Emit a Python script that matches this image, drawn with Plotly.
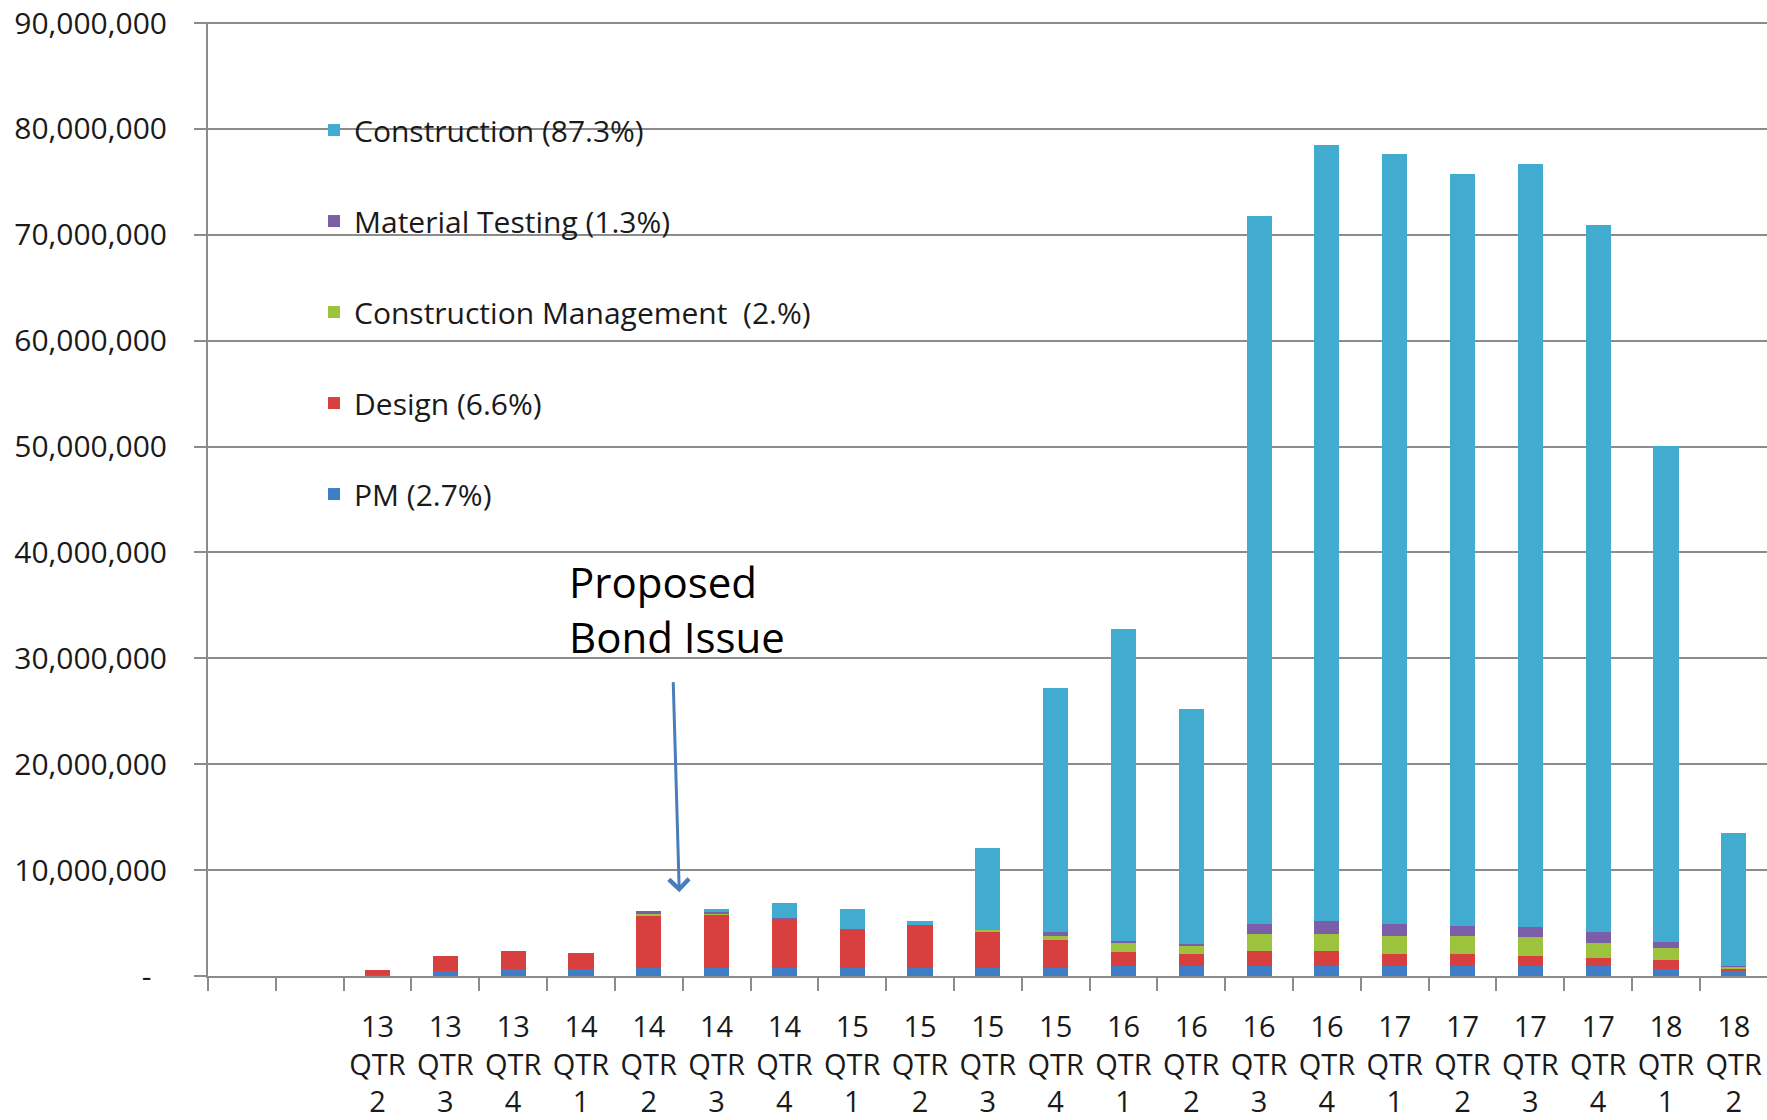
import plotly.graph_objects as go

# ---- data (values in millions of dollars) ----
years = ["", "", "13", "13", "13", "14", "14", "14", "14", "15", "15", "15", "15",
         "16", "16", "16", "16", "17", "17", "17", "17", "18", "18"]
quarters = ["", "", "2", "3", "4", "1", "2", "3", "4", "1", "2", "3", "4",
            "1", "2", "3", "4", "1", "2", "3", "4", "1", "2"]

pm = [0, 0, 0.05, 0.45, 0.65, 0.7, 0.75, 0.8, 0.75, 0.75, 0.75, 0.8, 0.8,
      0.95, 0.95, 0.95, 0.95, 0.95, 0.95, 0.9, 0.9, 0.7, 0.55]
design = [0, 0, 0.5, 1.45, 1.75, 1.45, 5.0, 5.0, 4.55, 3.6, 4.05, 3.4, 2.6,
          1.35, 1.1, 1.4, 1.4, 1.15, 1.15, 1.0, 0.8, 0.8, 0.15]
cm = [0, 0, 0, 0, 0, 0, 0.15, 0.1, 0, 0, 0, 0.15, 0.4,
      0.8, 0.75, 1.6, 1.6, 1.65, 1.65, 1.8, 1.4, 1.1, 0.15]
mt = [0, 0, 0, 0, 0, 0, 0.25, 0.1, 0.15, 0.1, 0, 0, 0.4,
      0.25, 0.25, 1.0, 1.2, 1.2, 0.95, 0.95, 1.1, 0.6, 0.05]
construction = [0, 0, 0, 0, 0, 0, 0, 0.3, 1.4, 1.85, 0.4, 7.7, 23.0,
                29.45, 22.15, 66.85, 73.35, 72.65, 71.0, 72.05, 66.7, 46.9, 12.6]

series_names = ["PM (2.7%)", "Design (6.6%)", "Construction Management  (2.%)",
                "Material Testing (1.3%)", "Construction (87.3%)"]
series_values = [pm, design, cm, mt, construction]
series_colors = ["#3f7dc6", "#d8403f", "#9dc33e", "#7a5ea8", "#41acd0"]
legend_ranks = [5, 4, 3, 2, 1]

ytick_vals = [0, 10e6, 20e6, 30e6, 40e6, 50e6, 60e6, 70e6, 80e6, 90e6]
ytick_text = ["-\u00a0\u00a0", "10,000,000", "20,000,000", "30,000,000", "40,000,000",
              "50,000,000", "60,000,000", "70,000,000", "80,000,000", "90,000,000"]

# category names: unique placeholders for the empty slots
cats = []
for i, (yr, q) in enumerate(zip(years, quarters)):
    if yr == "":
        cats.append("\u200b" * (i + 1))
    else:
        cats.append(f"{yr}<br>QTR<br>{q}")

fig = go.Figure()
for name, vals, col, rk in zip(series_names, series_values, series_colors, legend_ranks):
    fig.add_trace(go.Bar(
        x=cats, y=[v * 1e6 for v in vals], name=name,
        marker=dict(color=col, line=dict(width=0)),
        legendgroup=name, legendrank=rk,
    ))

font_family = "Open Sans, DejaVu Sans, sans-serif"
grid_col = "#8c8c8c"

fig.update_layout(
    width=1767, height=1120,
    barmode="stack", bargap=0.63,
    paper_bgcolor="white", plot_bgcolor="white",
    margin=dict(l=208, r=0, t=22, b=144, autoexpand=False),
    font=dict(family=font_family, color="#1a1a1a"),
    showlegend=True,
    legend=dict(x=0.068, y=0.914, xanchor="left", yanchor="top",
                traceorder="grouped", tracegroupgap=49,
                font=dict(size=30, family=font_family, color="#1a1a1a"),
                bgcolor="rgba(0,0,0,0)", borderwidth=0),
    xaxis=dict(type="category", categoryorder="array", categoryarray=cats,
               range=[-0.5, 22.49], tickson="boundaries", automargin=False,
               ticks="outside", ticklen=13, tickcolor=grid_col, tickwidth=2,
               showline=True, linecolor=grid_col, linewidth=2,
               showgrid=False, tickangle=0,
               tickfont=dict(size=29, family=font_family, color="#1a1a1a"),
               ticklabelstandoff=24, ticklabeloverflow="allow"),
    yaxis=dict(range=[0, 90.1e6], tickmode="array", tickvals=ytick_vals, ticktext=ytick_text,
               automargin=False,
               showgrid=True, gridcolor=grid_col, gridwidth=2,
               showline=True, linecolor=grid_col, linewidth=2,
               ticks="outside", ticklen=12, tickcolor=grid_col, tickwidth=2,
               zeroline=False, ticklabeloverflow="allow",
               tickfont=dict(size=30, family=font_family, color="#1a1a1a"),
               ticklabelstandoff=21),
)

# Bond issue annotation
fig.add_annotation(x=4.8, y=34.7e6, xref="x", yref="y",
                   text="Proposed<br>Bond Issue", showarrow=False,
                   xanchor="left", yanchor="middle", align="left",
                   font=dict(size=42, family=font_family, color="black"))
fig.add_annotation(x=6.45, y=7.9e6, xref="x", yref="y",
                   ax=6.36, ay=27.9e6, axref="x", ayref="y",
                   text="", showarrow=True, arrowhead=4, arrowsize=1.3,
                   arrowwidth=3, arrowcolor="#4a7ebb")

# remove the browser's default 8px body margin so the figure fills the window
fig.write_html("out.html", config={"displayModeBar": False},
               post_script="document.body.style.margin='0';document.body.style.overflow='hidden';")
